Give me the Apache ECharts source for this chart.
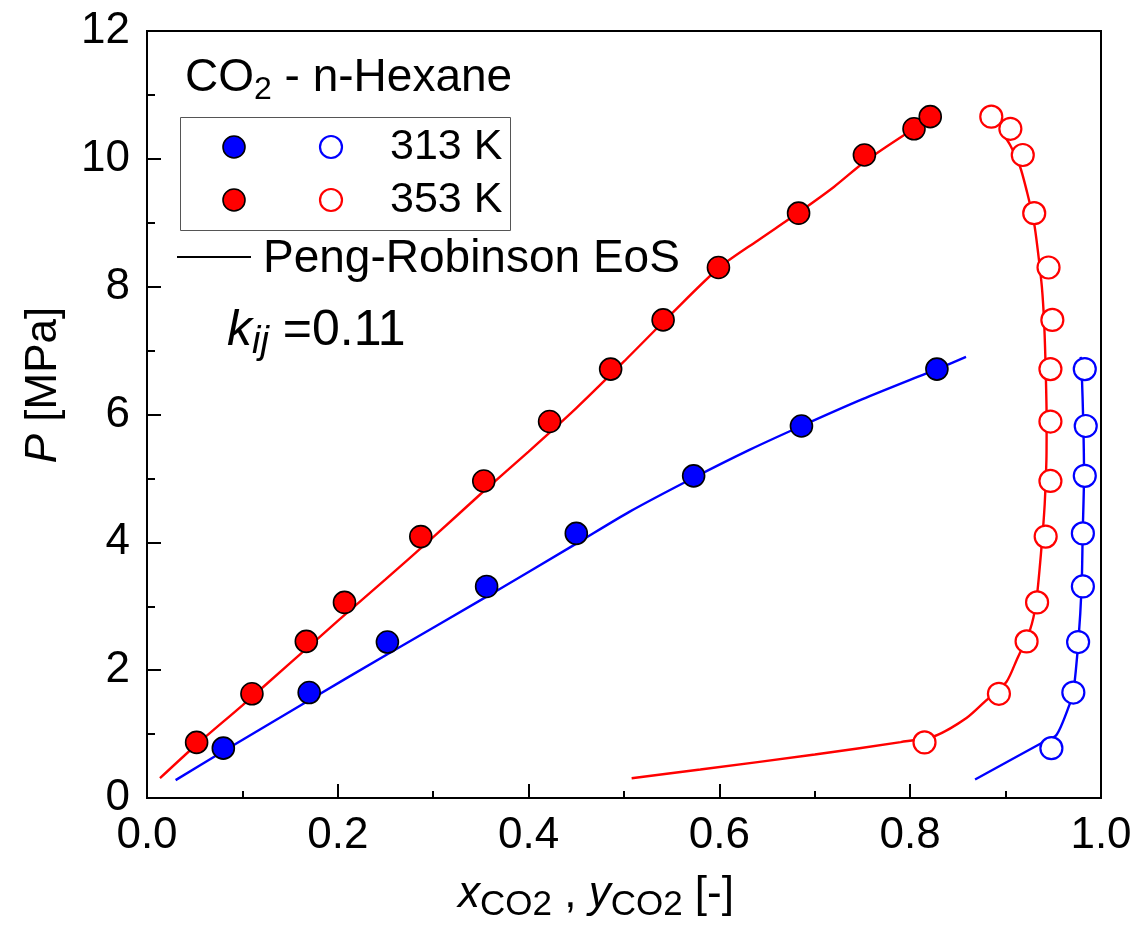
<!DOCTYPE html>
<html>
<head>
<meta charset="utf-8">
<script src="https://cdn.jsdelivr.net/npm/echarts@6/dist/echarts.min.js"></script>
<style>
html, body { margin: 0; padding: 0; background: #fff; }
#chart { width: 1138px; height: 930px; }
</style>
</head>
<body>
<div id="chart"></div>
<script>
const FONT = '"Liberation Sans", Arial, sans-serif'
const RED = '#ff0000'
const BLUE = '#0000ff'

// experimental data, 313 K (P in MPa, liquid x, vapour y)
const p313 = [0.78, 1.65, 2.44, 3.31, 4.14, 5.04, 5.82, 6.71]
const x313 = [0.080, 0.170, 0.252, 0.356, 0.450, 0.573, 0.686, 0.828]
const y313 = [0.948, 0.971, 0.976, 0.981, 0.981, 0.983, 0.984, 0.983]

// experimental data, 353 K
const p353 = [0.87, 1.63, 2.45, 3.06, 4.09, 4.96, 5.89, 6.71, 7.48, 8.30, 9.15, 10.06, 10.47, 10.66]
const x353 = [0.052, 0.110, 0.167, 0.207, 0.287, 0.353, 0.422, 0.486, 0.541, 0.599, 0.683, 0.752, 0.804, 0.821]
const y353 = [0.815, 0.893, 0.922, 0.933, 0.942, 0.947, 0.947, 0.947, 0.949, 0.945, 0.930, 0.918, 0.905, 0.885]

// Peng-Robinson curves
const prLiq313X = [0.030, 0.080, 0.170, 0.252, 0.356, 0.450, 0.506, 0.573, 0.632, 0.686, 0.750, 0.828, 0.8585]
const prLiq313P = [0.28, 0.73, 1.53, 2.25, 3.15, 3.98, 4.48, 5.01, 5.45, 5.82, 6.24, 6.71, 6.90]
const prVap313X = [0.868, 0.9378, 0.9535, 0.9675, 0.971, 0.9762, 0.9797, 0.9808, 0.9822, 0.9815, 0.9797, 0.9787]
const prVap313P = [0.29, 0.86, 0.99, 1.48, 1.65, 2.44, 3.31, 4.13, 5.05, 5.82, 6.71, 6.90]
const prLiq353X = [0.0136, 0.05, 0.10, 0.15, 0.20, 0.25, 0.30, 0.35, 0.40, 0.45, 0.50, 0.55, 0.60, 0.64, 0.683, 0.72, 0.752, 0.7945, 0.821]
const prLiq353P = [0.31, 0.81, 1.45, 2.11, 2.77, 3.42, 4.08, 4.76, 5.42, 6.10, 6.83, 7.58, 8.30, 8.72, 9.16, 9.56, 9.95, 10.38, 10.62]
const prVap353X = [0.508, 0.58, 0.70, 0.79, 0.826, 0.859, 0.882, 0.901, 0.9116, 0.9256, 0.932, 0.9375, 0.941, 0.9428, 0.943, 0.9422, 0.9405, 0.938, 0.9335, 0.9298, 0.9238, 0.9151, 0.9046, 0.896]
const prVap353P = [0.31, 0.445, 0.68, 0.875, 0.97, 1.25, 1.56, 1.82, 2.16, 2.63, 3.06, 3.90, 4.60, 5.30, 5.90, 6.60, 7.40, 8.00, 8.60, 9.00, 9.40, 9.88, 10.22, 10.42]

const zip = (xs, ps) => xs.map((x, i) => [x, ps[i]])

const chart = echarts.init(document.getElementById('chart'))

const prLine = (name, xs, ps, color) => ({
    name: name,
    type: 'line',
    data: zip(xs, ps),
    showSymbol: false,
    smooth: 0.25,
    z: 2,
    lineStyle: { color: color, width: 2.4 },
    silent: true
})

const filled = (name, xs, ps, color) => ({
    name: name,
    type: 'scatter',
    data: zip(xs, ps),
    symbol: 'circle',
    symbolSize: 22,
    z: 3,
    itemStyle: { color: color, borderColor: '#000', borderWidth: 1.6, opacity: 1 }
})

const open = (name, xs, ps, color) => ({
    name: name,
    type: 'scatter',
    data: zip(xs, ps),
    symbol: 'circle',
    symbolSize: 22,
    z: 3,
    itemStyle: { color: '#fff', borderColor: color, borderWidth: 2.2, opacity: 1 }
})

const txt = (x, y, text, size, extra) => ({
    type: 'text',
    x: x,
    y: y,
    z: 10,
    style: Object.assign({
        text: text,
        fill: '#000',
        fontSize: size,
        fontFamily: FONT,
        align: 'left',
        textAlign: 'left',
        verticalAlign: 'middle',
        textVerticalAlign: 'middle'
    }, extra || {})
})

const dot = (cx, cy, fill, stroke, lw) => ({
    type: 'circle',
    z: 10,
    shape: { cx: cx, cy: cy, r: 11 },
    style: { fill: fill, stroke: stroke, lineWidth: lw }
})

const option = {
    animation: false,
    backgroundColor: '#fff',
    grid: {
        left: 147,
        right: 37,
        top: 31,
        bottom: 132,
        show: true,
        borderColor: '#000',
        borderWidth: 2,
        containLabel: false
    },
    xAxis: {
        type: 'value',
        min: 0,
        max: 1,
        interval: 0.2,
        axisLine: { show: true, lineStyle: { color: '#000', width: 2 } },
        axisTick: { show: true, inside: true, length: 14, lineStyle: { color: '#000', width: 2 } },
        minorTick: { show: true, splitNumber: 2, length: 7, lineStyle: { color: '#000', width: 2 } },
        splitLine: { show: false },
        axisLabel: {
            margin: 16,
            color: '#000',
            fontSize: 44,
            fontFamily: FONT,
            formatter: v => v.toFixed(1)
        }
    },
    yAxis: {
        type: 'value',
        min: 0,
        max: 12,
        interval: 2,
        axisLine: { show: true, lineStyle: { color: '#000', width: 2 } },
        axisTick: { show: true, inside: true, length: 14, lineStyle: { color: '#000', width: 2 } },
        minorTick: { show: true, splitNumber: 2, length: 8, lineStyle: { color: '#000', width: 2 } },
        splitLine: { show: false },
        axisLabel: {
            margin: 17,
            color: '#000',
            fontSize: 44,
            fontFamily: FONT
        }
    },
    series: [
        prLine('PR 313 K liquid', prLiq313X, prLiq313P, BLUE),
        prLine('PR 313 K vapour', prVap313X, prVap313P, BLUE),
        prLine('PR 353 K liquid', prLiq353X, prLiq353P, RED),
        prLine('PR 353 K vapour', prVap353X, prVap353P, RED),
        filled('313 K x', x313, p313, BLUE),
        open('313 K y', y313, p313, BLUE),
        filled('353 K x', x353, p353, RED),
        open('353 K y', y353, p353, RED)
    ],
    graphic: [
        // title
        txt(185, 78, '{m|CO}{s|2}{m| - n-Hexane}', 46, {
            rich: {
                m: { fontSize: 46, fontFamily: FONT, lineHeight: 56 },
                s: { fontSize: 32, fontFamily: FONT, lineHeight: 24, verticalAlign: 'bottom' }
            }
        }),
        // legend box
        {
            type: 'rect',
            z: 9,
            shape: { x: 180.5, y: 117.5, width: 330, height: 113 },
            style: { fill: '#fff', stroke: '#555', lineWidth: 1 }
        },
        dot(234, 147, BLUE, '#000', 1.6),
        dot(331, 147, '#fff', BLUE, 2.2),
        dot(234, 200, RED, '#000', 1.6),
        dot(331, 200, '#fff', RED, 2.2),
        txt(390, 147, '313 K', 43),
        txt(390, 200, '353 K', 43),
        // Peng-Robinson line key
        {
            type: 'line',
            z: 10,
            shape: { x1: 177, y1: 257, x2: 251, y2: 257 },
            style: { stroke: '#000', lineWidth: 2 }
        },
        txt(263, 259, 'Peng-Robinson EoS', 46),
        // kij
        txt(227, 331, '{i|k}{s|ij}{m| =0.11}', 50, {
            rich: {
                i: { fontSize: 50, fontFamily: FONT, fontStyle: 'italic', lineHeight: 60 },
                m: { fontSize: 50, fontFamily: FONT, lineHeight: 60 },
                s: { fontSize: 38, fontFamily: FONT, fontStyle: 'italic', lineHeight: 28, verticalAlign: 'bottom' }
            }
        }),
        // x axis title
        txt(596, 895, '{i|x}{s|CO2}{m| , }{i|y}{s|CO2}{m| [-]}', 44, {
            align: 'center',
            textAlign: 'center',
            rich: {
                i: { fontSize: 44, fontFamily: FONT, fontStyle: 'italic', lineHeight: 56 },
                m: { fontSize: 44, fontFamily: FONT, lineHeight: 56 },
                s: { fontSize: 35, fontFamily: FONT, lineHeight: 20, verticalAlign: 'bottom' }
            }
        }),
        // y axis title
        Object.assign(txt(44, 385, '{i|P}{m| [MPa]}', 44, {
            align: 'center',
            textAlign: 'center',
            rich: {
                i: { fontSize: 44, fontFamily: FONT, fontStyle: 'italic' },
                m: { fontSize: 44, fontFamily: FONT }
            }
        }), { rotation: Math.PI / 2 })
    ]
}

chart.setOption(option)
</script>
</body>
</html>
